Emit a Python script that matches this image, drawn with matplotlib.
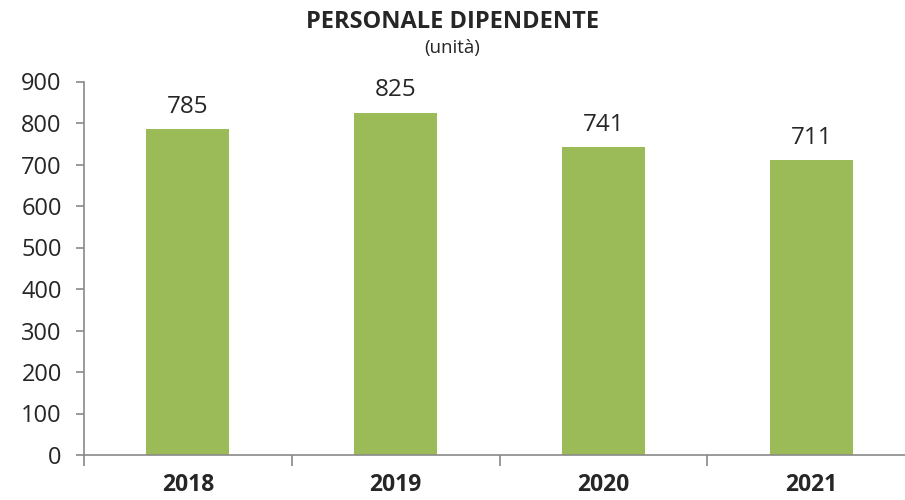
import matplotlib
matplotlib.use('Agg')
import matplotlib.pyplot as plt
from matplotlib import font_manager

# dati
anni = ['2018', '2019', '2020', '2021']
dipendenti = [785, 825, 741, 711]
y_ticks = [0, 100, 200, 300, 400, 500, 600, 700, 800, 900]

nomi = {f.name for f in font_manager.fontManager.ttflist}
font = 'Liberation Sans Narrow' if 'Liberation Sans Narrow' in nomi else 'Open Sans'
plt.rcParams['font.family'] = [font, 'DejaVu Sans']

fig = plt.figure(figsize=(9.05, 5.0), dpi=100)
ax = fig.add_axes([0.0928, 0.09, 0.9072, 0.747])

x = range(len(anni))
ax.bar(x, dipendenti, width=0.4, color='#9BBB59', zorder=2)

for xi, v in zip(x, dipendenti):
    ax.text(xi, v + 25, str(v), ha='center', va='bottom', fontsize=17.5, color='#262626')

ax.set_yticks(y_ticks)
ax.set_ylim(0, 900)
ax.set_xticks([i - 0.5 for i in range(5)], minor=False)
ax.set_xticklabels([])
ax.set_xticks(list(x), minor=True)
ax.set_xticklabels(anni, minor=True, fontsize=16.5, fontweight='bold', color='#262626')
ax.set_xlim(-0.5, 3.451)
ax.tick_params(axis='x', which='minor', length=0, pad=13)
ax.tick_params(axis='x', which='major', length=8, color='#898989', width=1.2)
ax.tick_params(axis='y', length=6, color='#898989', width=1.2, labelsize=17, labelcolor='#262626', pad=10)

for s in ['top', 'right']:
    ax.spines[s].set_visible(False)
for s in ['left', 'bottom']:
    ax.spines[s].set_color('#898989')
    ax.spines[s].set_linewidth(1.2)

fig.text(0.5, 0.955, 'PERSONALE DIPENDENTE', ha='center', va='center',
         fontsize=17, fontweight='bold', color='#262626')
fig.text(0.5, 0.905, '(unità)', ha='center', va='center', fontsize=13.5, color='#262626')

plt.savefig('out.png', dpi=100)
